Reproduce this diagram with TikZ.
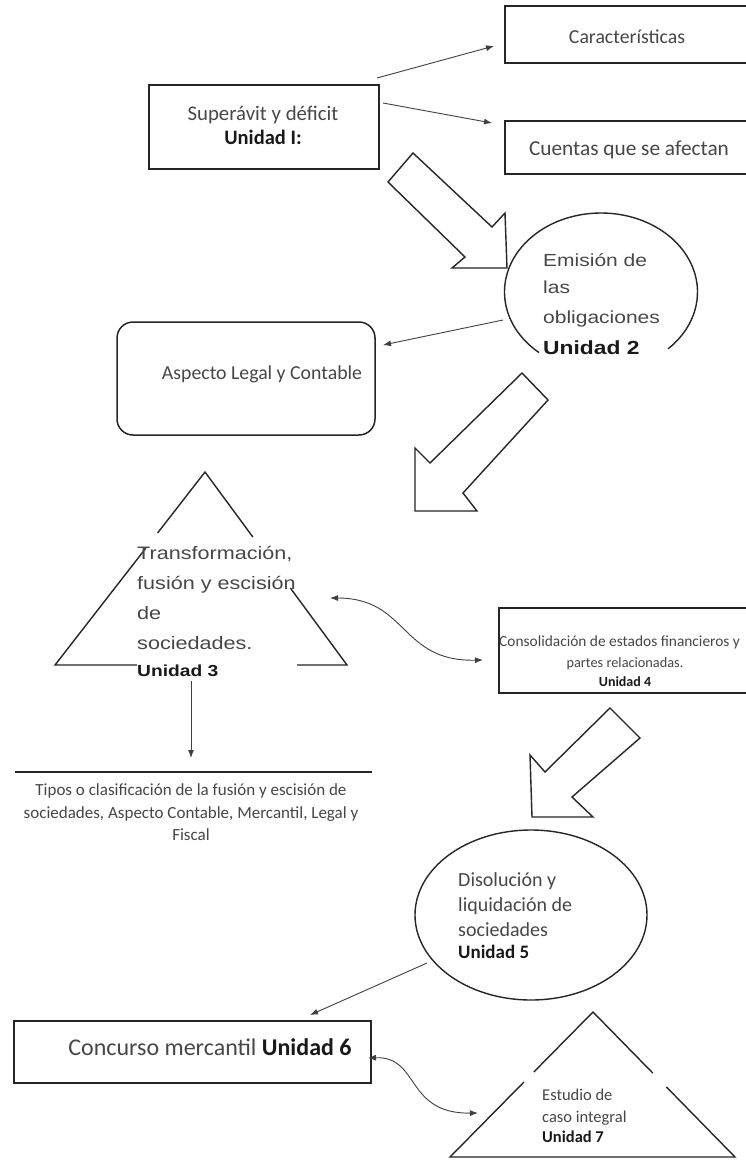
\documentclass[tikz,border=0pt]{standalone}
\usepackage{fontspec}
\setmainfont{Carlito}
\newfontfamily\arialf[FakeStretch=1.2]{Liberation Sans}
\usetikzlibrary{arrows.meta,shapes.geometric,calc}
\newcommand{\fsz}[2]{\fontsize{#1}{#2}\selectfont}
\begin{document}
\begin{tikzpicture}[x=1pt,y=-1pt,
  boxs/.style={draw=black!85, line width=1.5pt},
  blk/.style={draw=black!85, line width=1.4pt, line join=miter},
  conn/.style={draw=black!75, line width=0.9pt, -{Latex[length=8pt,width=6pt]}},
  dconn/.style={draw=black!75, line width=0.9pt, {Latex[length=8pt,width=6pt]}-{Latex[length=8pt,width=6pt]}},
  txt/.style={inner sep=0pt, text=black!72},
  btxt/.style={inner sep=0pt, text=black!90, font=\bfseries},
]
\useasboundingbox (0,0) rectangle (746,1160);
\fill[white] (0,0) rectangle (746,1160);

% ---- Unidad I
\node[boxs, anchor=north west, minimum width=230pt, minimum height=84pt] (sup) at (148,84) {};
\node[txt, anchor=base, font=\fsz{20.8}{24}] (supt) at (263,120) {Superávit y déficit};
\node[btxt, anchor=base, font=\bfseries\fsz{20.5}{24}] (supu) at (263,144) {Unidad I:};

\node[boxs, anchor=north west, minimum width=252pt, minimum height=57pt] (car) at (504,5) {};
\node[txt, anchor=base, font=\fsz{19.8}{24}] (cart) at (627,43) {Características};
\node[boxs, anchor=north west, minimum width=252pt, minimum height=53pt] (cue) at (504,120) {};
\node[txt, anchor=base, font=\fsz{21.3}{24}] (cuet) at (629,155) {Cuentas que se afectan};

\coordinate (a1s) at (377,78);
\coordinate (a1e) at (494,46);
\coordinate (a2s) at (383,103);
\coordinate (a2e) at (492,123);
\draw[conn] (a1s) -- (a1e);
\draw[conn] (a2s) -- (a2e);

% block arrow 1
\draw[blk] (413,153) -- (492,227) -- (505,213) -- (507,268) -- (452,268) -- (465,257) -- (388,182) -- cycle;

% ---- Unidad 2
\node[ellipse, minimum width=193pt, minimum height=158pt, inner sep=0pt] (emi) at (601,292) {};
\draw[line width=1.4pt, black!85] ($(emi.center)+({96.5*cos(130)},{79*sin(130)})$)
   arc[start angle=130, end angle=406, x radius=96.5, y radius=79];
\node[txt, anchor=base west, font=\arialf\fsz{17.5}{20}] (e1) at (543,266) {Emisión de};
\node[txt, anchor=base west, font=\arialf\fsz{17.5}{20}] (e2) at (543,293) {las};
\node[txt, anchor=base west, font=\arialf\fsz{17.5}{20}] (e3) at (543,323) {obligaciones};
\node[btxt, anchor=base west, font=\arialf\bfseries\fsz{19}{20}] (e4) at (543,354) {Unidad 2};

\node[boxs, rounded corners=16pt, minimum width=258pt, minimum height=113pt] (asp) at (246,378.5) {};
\node[txt, anchor=base, font=\fsz{19.8}{24}] (aspt) at (262,379) {Aspecto Legal y Contable};
\coordinate (a3s) at (503,320);
\coordinate (a3e) at (383,345);
\draw[conn] (a3s) -- (a3e);

% block arrow 2
\draw[blk] (522,373) -- (548,400) -- (463,493) -- (477,511) -- (415,511) -- (415,448) -- (430,463) -- cycle;

% ---- Unidad 3 triangle
\coordinate (t3a) at (205,472);
\coordinate (t3l) at (55,665);
\coordinate (t3r) at (347,665);
\draw[blk] ($(t3a)!0.337!(t3r)$) -- (t3a) -- ($(t3a)!0.316!(t3l)$);
\draw[blk] ($(t3a)!0.394!(t3l)$) -- (t3l) -- ($(t3l)!0.281!(t3r)$);
\draw[blk] ($(t3l)!0.829!(t3r)$) -- (t3r) -- ($(t3a)!0.601!(t3r)$);
\node[txt, anchor=base west, font=\arialf\fsz{18}{20}] (f1) at (137,559) {Transformación,};
\node[txt, anchor=base west, font=\arialf\fsz{18}{20}] (f2) at (137,589) {fusión y escisión};
\node[txt, anchor=base west, font=\arialf\fsz{18}{20}] (f3) at (137,619) {de};
\node[txt, anchor=base west, font=\arialf\fsz{18}{20}] (f4) at (137,649) {sociedades.};
\node[btxt, anchor=base west, font=\arialf\bfseries\fsz{16}{20}] (f5) at (137,676) {Unidad 3};

\coordinate (u3s) at (191,681);
\coordinate (u3e) at (191,758);
\draw[conn] (u3s) -- (u3e);
\coordinate (hl1) at (15,772);
\coordinate (hl2) at (372,772);
\draw[line width=1.6pt, black!85] (hl1) -- (hl2);
\node[txt, anchor=base, font=\fsz{17}{20}] (p1) at (191,795) {Tipos o clasificación de la fusión y escisión de};
\node[txt, anchor=base, font=\fsz{17}{20}] (p2) at (191,818) {sociedades, Aspecto Contable, Mercantil, Legal y};
\node[txt, anchor=base, font=\fsz{17}{20}] (p3) at (191,840) {Fiscal};

% ---- Unidad 4
\node[boxs, anchor=north west, minimum width=256pt, minimum height=85pt] (con) at (498,607) {};
\node[txt, anchor=base west, font=\fsz{15.4}{16}] (c1) at (499,646.5) {Consolidación de estados financieros y};
\node[txt, anchor=base, font=\fsz{14.3}{16}] (c2) at (625,667.5) {partes relacionadas.};
\node[btxt, anchor=base, font=\bfseries\fsz{14}{16}] (c3) at (625,686.5) {Unidad 4};

\coordinate (d1s) at (330,598);
\coordinate (d1e) at (483,660);
\draw[dconn] (d1s) .. controls (408,598) and (400,662) .. (d1e);

% block arrow 3
\draw[blk] (610,708) -- (640,738) -- (572,797) -- (593,817) -- (532,817) -- (530,755) -- (545,772) -- cycle;

% ---- Unidad 5
\node[draw=black!85, line width=1.4pt, ellipse, minimum width=232pt, minimum height=170pt, inner sep=0pt] (dis) at (531,915) {};
\node[txt, anchor=base west, font=\fsz{20}{22}] (s1) at (458,886) {Disolución y};
\node[txt, anchor=base west, font=\fsz{20}{22}] (s2) at (458,911) {liquidación de};
\node[txt, anchor=base west, font=\fsz{20}{22}] (s3) at (458,936) {sociedades};
\node[btxt, anchor=base west, font=\bfseries\fsz{19}{22}] (s4) at (458,958) {Unidad 5};

\coordinate (a5s) at (427,963);
\coordinate (a5e) at (310,1015);
\draw[conn] (a5s) -- (a5e);

% ---- Unidad 6
\node[boxs, anchor=north west, minimum width=357pt, minimum height=62pt] (conc) at (13,1020) {};
\node[txt, anchor=base, font=\fsz{24}{26}] (conct) at (210,1055) {Concurso mercantil {\bfseries\color{black!90}Unidad 6}};

% ---- Unidad 7 triangle
\coordinate (t7a) at (593,1012);
\coordinate (t7l) at (450,1157);
\coordinate (t7r) at (735,1157);
\draw[blk] ($(t7a)!0.421!(t7r)$) -- (t7a) -- ($(t7a)!0.414!(t7l)$);
\draw[blk] ($(t7a)!0.483!(t7l)$) -- (t7l) -- (t7r) -- ($(t7a)!0.517!(t7r)$);
\node[txt, anchor=base west, font=\fsz{16.5}{20}] (g1) at (542,1100) {Estudio de};
\node[txt, anchor=base west, font=\fsz{16.5}{20}] (g2) at (542,1122) {caso integral};
\node[btxt, anchor=base west, font=\bfseries\fsz{16.5}{20}] (g3) at (542,1142) {Unidad 7};

\coordinate (d2s) at (368,1058);
\coordinate (d2e) at (478,1113);
\draw[dconn] (d2s) .. controls (420,1056) and (405,1114) .. (d2e);
\end{tikzpicture}
\end{document}
